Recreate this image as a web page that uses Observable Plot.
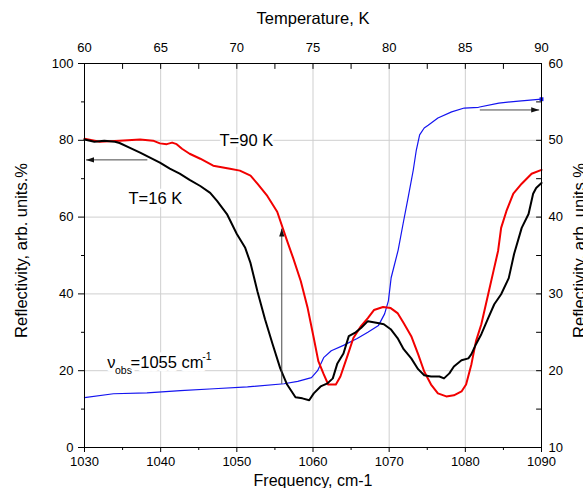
<!DOCTYPE html>
<html>
<head>
<meta charset="utf-8">
<script src="https://cdn.jsdelivr.net/npm/d3@7"></script>
<script src="https://cdn.jsdelivr.net/npm/@observablehq/plot@0.6"></script>
<style>
  body { margin: 0; background: #fff; }
  #chart svg { display: block; }
</style>
</head>
<body>
<div id="chart"></div>
<script>
// ---- T = 16 K spectrum (frequency cm-1, reflectivity %) ----
const freq16 = [1030,1031.3,1032.6,1034.0,1034.6,1035.9,1037.3,1038.6,1039.9,1041.2,1042.5,1043.8,1045.2,1046.5,1047.4,1048.7,1050.0,1051.1,1051.8,1052.7,1053.7,1054.7,1055.7,1056.6,1057.7,1058.6,1059.5,1060.1,1061.0,1061.9,1062.6,1063.2,1064.0,1064.7,1065.6,1066.3,1067.2,1068.5,1069.3,1070.2,1071.1,1071.9,1072.9,1073.8,1074.6,1075.5,1076.6,1077.2,1077.9,1078.5,1079.5,1080.4,1080.8,1081.4,1082.1,1083.0,1083.8,1084.7,1085.7,1086.4,1087.4,1088.3,1088.9,1089.3,1090];
const refl16 = [80.2,79.6,79.9,79.6,79.3,78.1,76.8,75.5,74.2,72.6,71.3,69.7,68.1,66.3,64.2,60.8,55.6,52.0,48.0,40.7,33.4,26.9,20.6,16.4,13.1,12.8,12.3,14.1,15.9,16.7,18.0,21.9,24.5,29.0,30.0,31.1,32.9,32.4,32.1,30.8,28.5,25.6,23.2,20.4,18.8,18.5,18.5,18.0,19.3,21.1,22.7,23.2,24.3,26.9,29.5,33.7,37.3,39.9,44.1,50.4,57.2,60.8,66.1,67.6,68.9];

// ---- T = 90 K spectrum ----
const freq90 = [1030,1032.0,1034.6,1037.3,1039.0,1039.9,1040.8,1041.5,1042.1,1042.8,1043.8,1045.2,1046.9,1049.1,1050.4,1051.8,1052.7,1054.0,1055.3,1056.6,1057.4,1058.4,1059.3,1060.1,1060.7,1061.4,1062.0,1063.0,1063.6,1064.6,1065.3,1066.3,1067.2,1068.0,1069.2,1070.2,1071.1,1071.9,1072.9,1073.8,1074.6,1075.5,1076.4,1077.5,1078.5,1079.5,1080.1,1080.8,1081.4,1082.1,1083.0,1083.7,1084.3,1084.7,1085.4,1086.3,1087.4,1088.7,1090];
const refl90 = [80.4,79.6,79.9,80.2,79.9,79.2,79.0,79.4,79.0,77.8,76.5,75.2,73.4,72.6,72.1,70.8,68.7,65.5,61.4,53.8,49.3,43.3,36.3,28.5,22.5,19.1,16.4,16.4,18.5,24.3,28.5,31.6,33.7,35.8,36.6,36.3,35.0,32.4,29.0,24.3,19.8,16.4,14.1,13.3,13.6,14.6,16.4,21.7,27.7,32.1,39.9,46.0,51.2,57.2,61.6,66.1,68.7,71.3,72.3];

// ---- reflectivity at 1055 cm-1 vs temperature (top axis K, right axis %) ----
const tempBlue = [60,61.9,64.1,66.3,68.5,70.7,73.1,74.0,74.9,75.3,75.7,76.2,77.0,77.9,78.6,79.3,79.7,79.95,80.13,80.59,80.92,81.25,81.58,81.78,82.0,82.3,82.56,83.2,84.1,84.93,85.86,87.2,88.5,90];
const reflBlue = [16.5,17.0,17.1,17.4,17.65,17.9,18.3,18.6,19.1,20.0,21.7,22.6,23.3,24.2,25.0,25.9,27.4,29.1,32.1,35.7,39.2,42.6,46.1,48.7,50.7,51.6,51.96,52.9,53.7,54.2,54.3,54.85,55.1,55.35];

// ---- ticks ----
const freqTicks = [1030,1040,1050,1060,1070,1080,1090];
const freqMinorTicks = [1035,1045,1055,1065,1075,1085];
const tempTicks = [60,65,70,75,80,85,90];
const reflTicks = [0,20,40,60,80,100];
const reflMinorTicks = [10,30,50,70,90];
const rightTicks = [10,20,30,40,50,60];

// ---- annotations ----
const arrowX1 = [1038.25, 1081.9, 1055.9];
const arrowY1 = [74.9, 87.9, 16.6];
const arrowX2 = [1030.2, 1089.7, 1055.9];
const arrowY2 = [74.9, 87.9, 57.0];
const arrowDir = [-90, 90, 0];
const noteText = ["T=90 K", "T=16 K"];
const noteX = [1051.25, 1039.3];
const noteY = [80.0, 64.9];

// axis mappings of the linked top/right axes
const tempToFreq = t => 1030 + 2 * (t - 60);
const freqToTemp = f => 60 + (f - 1030) / 2;
const rightToLeft = r => 2 * (r - 10);
const leftToRight = l => 10 + l / 2;

const s16 = freq16.map((f, i) => ({f, r: refl16[i]}));
const s90 = freq90.map((f, i) => ({f, r: refl90[i]}));
const sBlue = tempBlue.map((t, i) => ({f: tempToFreq(t), r: rightToLeft(reflBlue[i])}));
const arrows = arrowX1.map((x1, i) => ({x1, y1: arrowY1[i], x2: arrowX2[i], y2: arrowY2[i], dir: arrowDir[i]}));
const notes = noteText.map((t, i) => ({t, x: noteX[i], y: noteY[i]}));

const headSymbol = {draw(ctx) { ctx.moveTo(0, 0); ctx.lineTo(-2.6, 8); ctx.lineTo(2.6, 8); ctx.closePath(); }};
const tickShape = {draw(ctx, l) { ctx.moveTo(0, 0); ctx.lineTo(0, -l); }};

const FONT = "'Liberation Sans', Arial, Helvetica, sans-serif";
const gridColor = "#cfcfcf";
const halo = {fill: "black", stroke: "white", textAnchor: "start", lineAnchor: "bottom"};

const chart = Plot.plot({
  width: 583,
  height: 488,
  marginLeft: 84,
  marginRight: 42,
  marginTop: 63,
  marginBottom: 41,
  x: {domain: [1030, 1090]},
  y: {domain: [0, 100]},
  style: {fontFamily: FONT, fontSize: "13px", color: "black", background: "white", overflow: "visible"},
  marks: [
    Plot.gridX(freqTicks.slice(1, -1), {stroke: gridColor, strokeOpacity: 1, strokeWidth: 1}),
    Plot.gridY(reflTicks.slice(1, -1), {stroke: gridColor, strokeOpacity: 1, strokeWidth: 1}),
    // annotations with white backgrounds
    Plot.text(notes, {x: "x", y: "y", text: "t", fontSize: 16.5, fill: "black", stroke: "white", strokeWidth: 7}),
    Plot.text(["ν"], {...halo, x: 1033.0, y: 20.8, fontSize: 16.5, strokeWidth: 7}),
    Plot.text(["obs"], {...halo, x: 1034.0, y: 19.2, fontSize: 10.5, strokeWidth: 6}),
    Plot.text(["=1055 cm"], {...halo, x: 1036.05, y: 20.8, fontSize: 16.5, strokeWidth: 7}),
    Plot.text(["-1"], {...halo, x: 1045.45, y: 22.9, fontSize: 10.5, strokeWidth: 5}),
    // curves
    Plot.line(sBlue, {x: "f", y: "r", stroke: "#1414f0", strokeWidth: 1.2}),
    Plot.dot(sBlue.slice(-1), {x: "f", y: "r", symbol: "square", r: 2.2, fill: "#1414f0"}),
    Plot.line(s90, {x: "f", y: "r", stroke: "#f20000", strokeWidth: 2}),
    Plot.line(s16, {x: "f", y: "r", stroke: "black", strokeWidth: 2}),
    // arrows
    Plot.link(arrows, {x1: "x1", y1: "y1", x2: "x2", y2: "y2", stroke: "#333", strokeWidth: 0.9}),
    Plot.dot(arrows, {x: "x2", y: "y2", rotate: "dir", symbol: headSymbol, fill: "#111", stroke: "none", r: 3}),
    // frame
    Plot.frame({stroke: "black", strokeWidth: 1}),
    // bottom axis
    Plot.axisX(freqTicks, {anchor: "bottom", tickSize: 5, tickPadding: 4, fontSize: 13, label: null, tickFormat: d => String(d)}),
    Plot.axisX(freqMinorTicks, {anchor: "bottom", tickSize: 3, tickFormat: () => "", label: null}),
    // left axis
    Plot.axisY(reflTicks, {anchor: "left", tickSize: 6, tickPadding: 5, fontSize: 13, label: null, tickFormat: d => String(d)}),
    Plot.axisY(reflMinorTicks, {anchor: "left", tickSize: 3, tickFormat: () => "", label: null}),
    // top axis (temperature), inward ticks
    Plot.axisX(tempTicks.map(tempToFreq), {anchor: "top", tickSize: 0, tickPadding: 12, fontSize: 13, label: null, tickFormat: f => String(freqToTemp(f))}),
    Plot.vector([...freqTicks, ...freqMinorTicks], {x: d => d, frameAnchor: "top", length: 5, rotate: 180, anchor: "start", shape: tickShape, stroke: "black", strokeWidth: 1}),
    // right axis, inward ticks
    Plot.axisY(rightTicks.map(rightToLeft), {anchor: "right", tickSize: 0, tickPadding: 7, fontSize: 13, label: null, tickFormat: l => String(leftToRight(l))}),
    Plot.vector([...reflTicks, ...reflMinorTicks], {y: d => d, frameAnchor: "right", length: 5, rotate: -90, anchor: "start", shape: tickShape, stroke: "black", strokeWidth: 1}),
    // axis titles
    Plot.text(["Temperature, K"], {frameAnchor: "top", dy: -45, fontSize: 16.5, textAnchor: "middle", lineAnchor: "middle"}),
    Plot.text(["Frequency, cm-1"], {frameAnchor: "bottom", dy: 33, fontSize: 16, textAnchor: "middle", lineAnchor: "middle"}),
    Plot.text(["Reflectivity, arb. units.%"], {frameAnchor: "left", dx: -63, dy: -5, rotate: -90, fontSize: 16.5, textAnchor: "middle", lineAnchor: "middle"}),
    Plot.text(["Reflectivity, arb. units.%"], {frameAnchor: "right", dx: 38, dy: -5, rotate: -90, fontSize: 16.5, textAnchor: "middle", lineAnchor: "middle"})
  ]
});
document.getElementById("chart").append(chart);
</script>
</body>
</html>
